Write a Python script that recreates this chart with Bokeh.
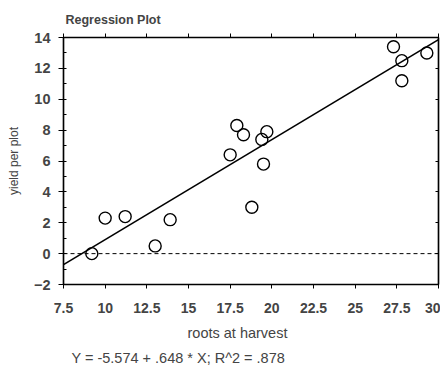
from bokeh.plotting import figure
from bokeh.models import (LinearAxis, FixedTicker, SingleIntervalTicker, Range1d, Title, Span)
from bokeh.embed import file_html
from bokeh.resources import INLINE

roots = [9.2, 10.0, 11.2, 13.0, 13.9, 17.5, 17.9, 18.3, 18.8, 19.4, 19.5, 19.7, 27.3, 27.8, 27.8, 29.3]
yield_ = [0.0, 2.3, 2.4, 0.5, 2.2, 6.4, 8.3, 7.7, 3.0, 7.4, 5.8, 7.9, 13.4, 12.5, 11.2, 13.0]
intercept = -5.574
slope = 0.648
x_ticks = [7.5, 10, 12.5, 15, 17.5, 20, 22.5, 25, 27.5, 30]
x_tick_labels = {7.5: "7.5", 10: "10", 12.5: "12.5", 15: "15", 17.5: "17.5",
                 20: "20", 22.5: "22.5", 25: "25", 27.5: "27.5", 30: "30"}
y_ticks = [-2, 0, 2, 4, 6, 8, 10, 12, 14]
title_text = "Regression Plot"
x_label = "roots at harvest"
y_label = "yield per plot"
equation = "Y = -5.574 + .648 * X; R^2 = .878"

FONT = "Liberation Sans"

p = figure(width=440, height=365, output_backend="svg", toolbar_location=None,
           x_range=Range1d(7.5, 30), y_range=Range1d(-2, 14),
           x_axis_location=None, y_axis_location=None,
           min_border_left=63, min_border_right=2, min_border_top=37, min_border_bottom=79)
p.grid.visible = False
p.outline_line_color = "black"
p.outline_line_width = 1.2
p.background_fill_color = "white"
p.border_fill_color = "white"

p.title.text = title_text
p.title.text_font = FONT
p.title.text_font_size = "12.5px"
p.title.text_font_style = "bold"
p.title.align = "left"
p.title.offset = 2
p.title.standoff = 13

# Left axis
yax = LinearAxis(ticker=SingleIntervalTicker(interval=2, num_minor_ticks=2),
                 axis_label=y_label)
yax.axis_line_width = 1.5
yax.major_tick_out = 5
yax.major_tick_in = 0
yax.minor_tick_in = 3
yax.minor_tick_out = 0
yax.major_label_text_font = FONT
yax.major_label_text_font_style = "bold"
yax.major_label_text_font_size = "14.5px"
yax.major_label_standoff = 8
yax.axis_label_text_font = FONT
yax.axis_label_text_font_style = "normal"
yax.axis_label_text_font_size = "12px"
yax.axis_label_standoff = 10
p.add_layout(yax, "left")

# Bottom axis
xax = LinearAxis(ticker=FixedTicker(ticks=x_ticks))
xax.major_label_overrides = x_tick_labels
xax.axis_line_width = 1.5
xax.major_tick_out = 4
xax.major_tick_in = 0
xax.minor_tick_out = 0
xax.minor_tick_in = 0
xax.major_label_text_font = FONT
xax.major_label_text_font_style = "bold"
xax.major_label_text_font_size = "14px"
xax.major_label_standoff = 14
p.add_layout(xax, "below")

# Top axis (ticks only)
tax = LinearAxis(ticker=FixedTicker(ticks=x_ticks))
tax.major_label_overrides = {t: "" for t in x_ticks}
tax.axis_line_width = 1.5
tax.major_tick_out = 4
tax.major_tick_in = 0
tax.minor_tick_out = 0
tax.major_label_standoff = 0
p.add_layout(tax, "above")

# Right axis (ticks only)
rax = LinearAxis(ticker=FixedTicker(ticks=y_ticks))
rax.major_label_overrides = {t: "" for t in y_ticks}
rax.axis_line_width = 1.5
rax.major_tick_out = 0
rax.major_tick_in = 3
rax.minor_tick_out = 0
rax.minor_tick_in = 0
rax.major_label_standoff = 0
p.add_layout(rax, "right")

# X label and equation as stacked titles below
xl = Title(text=x_label, align="left", text_font=FONT, text_font_size="14.5px",
           text_font_style="normal", offset=124, standoff=14)
p.add_layout(xl, "below")
eq = Title(text=equation, align="left", text_font=FONT, text_font_size="14.5px",
           text_font_style="normal", offset=8, standoff=0)
p.add_layout(eq, "below")

# zero reference
p.add_layout(Span(location=0, dimension="width", line_color="black",
                  line_dash="4 3", line_width=1))

# regression line
x0, x1 = p.x_range.start, p.x_range.end
p.line([x0, x1], [intercept + slope * x0, intercept + slope * x1],
       line_color="black", line_width=1.6)

p.scatter(roots, yield_, size=12, marker="circle", fill_color=None,
          line_color="black", line_width=1.4)

open("out.html", "w").write(file_html(p, INLINE))
